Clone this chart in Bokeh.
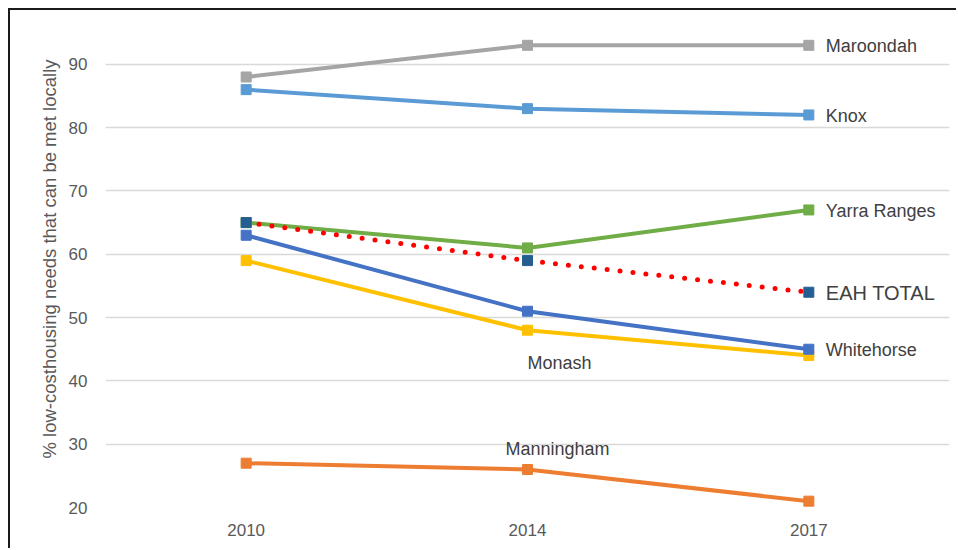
from bokeh.plotting import figure
from bokeh.models import Range1d, FixedTicker
from bokeh.core.properties import value
from bokeh.embed import file_html
from bokeh.resources import INLINE

years = ["2010", "2014", "2017"]
maroondah = [88, 93, 93]
knox = [86, 83, 82]
yarra_ranges = [65, 61, 67]
eah_total = [65, 59, 54]
whitehorse = [63, 51, 45]
monash = [59, 48, 44]
manningham = [27, 26, 21]
y_ticks = [20, 30, 40, 50, 60, 70, 80, 90]
y_title = "% low-costhousing needs that can be met locally"

FONT = "Liberation Sans"
TXT = "#404040"

p = figure(x_range=years, y_range=Range1d(20, 98.5), width=948, height=540,
           output_backend="svg", toolbar_location=None,
           min_border_left=95, min_border_right=9, min_border_top=0, min_border_bottom=43,
           styles={"margin-left": "8px", "margin-top": "8px",
                   "border-left": "2px solid #1a1a1a", "border-top": "2px solid #1a1a1a"})
p.outline_line_color = None
p.background_fill_color = "white"
p.border_fill_color = "white"

p.xgrid.grid_line_color = None
p.ygrid.grid_line_color = "#D9D9D9"
p.ygrid.grid_line_width = 1.5
p.yaxis.ticker = FixedTicker(ticks=y_ticks)

for ax in (p.xaxis[0], p.yaxis[0]):
    ax.axis_line_color = None
    ax.major_tick_line_color = None
    ax.minor_tick_line_color = None
    ax.major_tick_out = 0
    ax.major_tick_in = 0
    ax.major_label_text_font = FONT
    ax.major_label_text_font_size = "17px"
    ax.major_label_text_color = "#595959"
p.yaxis.major_label_standoff = 18
p.xaxis.major_label_standoff = 16
p.yaxis.axis_label = y_title
p.yaxis.axis_label_text_font = FONT
p.yaxis.axis_label_text_font_size = "18.5px"
p.yaxis.axis_label_text_font_style = "normal"
p.yaxis.axis_label_text_color = "#595959"
p.yaxis.axis_label_standoff = 6

series = [
    ("Manningham", manningham, "#ED7D31"),
    ("Monash", monash, "#FFC000"),
    ("Whitehorse", whitehorse, "#4472C4"),
    ("Yarra Ranges", yarra_ranges, "#70AD47"),
    ("Knox", knox, "#5B9BD5"),
    ("Maroondah", maroondah, "#A5A5A5"),
]
for name, vals, col in series:
    p.line(years, vals, line_color=col, line_width=4)
    p.scatter(years, vals, marker="square", size=10, fill_color=col, line_color=col)

p.line(years, eah_total, line_color="#FF0000", line_width=5, line_dash="0 13", line_cap="round")
p.scatter(years, eah_total, marker="square", size=10, fill_color="#255E91", line_color="#255E91")

# end labels
end_labels = [("Maroondah", maroondah, "18px"), ("Knox", knox, "18px"),
              ("Yarra Ranges", yarra_ranges, "18px"), ("EAH TOTAL", eah_total, "20px"),
              ("Whitehorse", whitehorse, "18px")]
for name, vals, fs in end_labels:
    p.text(x=[years[-1]], y=[vals[-1]], text=[name], x_offset=17, y_offset=1,
           text_baseline="middle", text_align="left", text_font=value(FONT),
           text_font_size=fs, text_color=TXT)

p.text(x=[years[1]], y=[monash[1]], text=["Monash"], x_offset=0, y_offset=33,
       text_baseline="middle", text_align="left", text_font=value(FONT),
       text_font_size="18px", text_color=TXT)
p.text(x=[years[1]], y=[manningham[1]], text=["Manningham"], x_offset=30, y_offset=-21,
       text_baseline="middle", text_align="center", text_font=value(FONT),
       text_font_size="18px", text_color=TXT)

open("out.html", "w").write(file_html(p, INLINE))
